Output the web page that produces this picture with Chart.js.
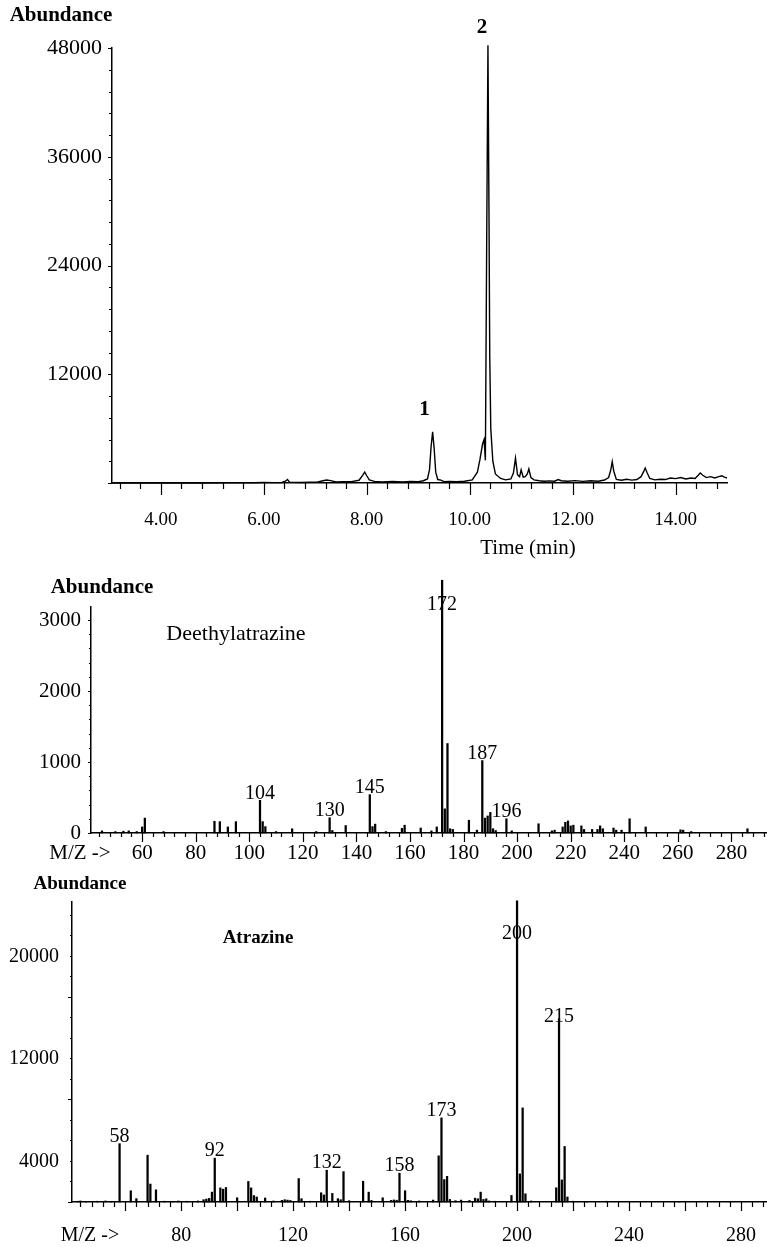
<!DOCTYPE html>
<html>
<head>
<meta charset="utf-8">
<script src="https://cdn.jsdelivr.net/npm/chart.js@4.4.0/dist/chart.umd.min.js"></script>
<style>
  html, body { margin: 0; padding: 0; background: #fff; }
  #page { position: relative; width: 767px; height: 1247px; overflow: hidden; background: #fff; }
  #page canvas { position: absolute; left: 0; display: block; }
</style>
</head>
<body>
<div id="page">
  <canvas id="chromChart" width="767" height="575" style="top:0"></canvas>
  <canvas id="deaChart" width="767" height="295" style="top:575px"></canvas>
  <canvas id="atzChart" width="767" height="377" style="top:870px"></canvas>
</div>
<script>
// ---- Chromatogramme (TIC) ----
const chromTime = [
  3.05, 3.6, 4.2, 4.8, 5.3, 5.8, 6.0, 6.2, 6.35, 6.42,
  6.46, 6.5, 6.7, 6.9, 7.05, 7.15, 7.22, 7.3, 7.4, 7.55,
  7.7, 7.85, 7.92, 7.96, 8.0, 8.05, 8.15, 8.3, 8.5, 8.7,
  8.85, 9.0, 9.1, 9.18, 9.22, 9.25, 9.28, 9.31, 9.34, 9.38,
  9.44, 9.5, 9.6, 9.75, 9.9, 10.05, 10.15, 10.2, 10.25, 10.28,
  10.305, 10.33, 10.355, 10.375, 10.39, 10.41, 10.45, 10.5, 10.6, 10.7,
  10.8, 10.85, 10.89, 10.93, 10.97, 11.0, 11.04, 11.08, 11.12, 11.15,
  11.19, 11.25, 11.35, 11.45, 11.55, 11.65, 11.72, 11.78, 11.9, 12.05,
  12.2, 12.35, 12.5, 12.62, 12.7, 12.74, 12.77, 12.8, 12.85, 12.95,
  13.05, 13.15, 13.25, 13.33, 13.38, 13.41, 13.45, 13.5, 13.6, 13.7,
  13.8, 13.9, 14.0, 14.1, 14.2, 14.3, 14.38, 14.44, 14.48, 14.53,
  14.6, 14.68, 14.76, 14.84, 14.9, 14.95, 15.0
];
const chromAbund = [
  0, 0, 0, 0, 30, 20, 60, 40, 60, 200,
  380, 100, 50, 90, 120, 250, 330, 260, 110, 130,
  150, 300, 850, 1200, 800, 350, 180, 120, 160, 120,
  170, 150, 250, 450, 1500, 4000, 5650, 3800, 1200, 380,
  320, 150, 180, 150, 200, 350, 1200, 2600, 4300, 4800,
  2500, 26000, 48300, 30000, 14000, 6000, 2400, 1000, 500, 350,
  450, 1100, 2750, 900, 700, 1450, 650, 700, 1000, 1550,
  600, 350, 250, 200, 230, 200, 380, 250, 200, 260,
  180, 250, 200, 330, 600, 1400, 2350, 1300, 400, 300,
  420, 320, 380, 700, 1250, 1650, 1100, 500, 350, 420,
  380, 550, 480, 600, 450, 550, 500, 850, 1100, 850,
  600, 700, 550, 700, 800, 650, 550
];
const chromTimeTicks = [4, 6, 8, 10, 12, 14];
const chromAbundTicks = [12000, 24000, 36000, 48000];
const chromPeakNames = ['1', '2'];
const chromPeakTimes = [9.28, 10.355];

// ---- Spectre de masse : deethylatrazine ----
const deaMz = [
  45, 50, 53, 55, 58, 60, 61, 68, 87, 89,
  92, 95, 104, 105, 106, 110, 116, 125, 130, 131,
  136, 145, 146, 147, 151, 157, 158, 164, 168, 170,
  172, 173, 174, 175, 176, 182, 185, 187, 188, 189,
  190, 191, 192, 196, 198, 208, 213, 214, 217, 218,
  219, 220, 221, 224, 225, 228, 230, 231, 232, 236,
  237, 239, 242, 248, 261, 262, 265, 286
];
const deaAbund = [
  30, 20, 25, 30, 20, 85, 210, 20, 165, 160,
  85, 160, 460, 160, 90, 20, 60, 20, 215, 35,
  105, 540, 90, 125, 20, 65, 110, 70, 30, 85,
  3560, 340, 1260, 60, 50, 180, 40, 1020, 210, 240,
  290, 60, 35, 200, 30, 130, 30, 40, 85, 150,
  170, 100, 110, 100, 50, 50, 50, 100, 60, 70,
  40, 40, 200, 85, 45, 40, 20, 60
];
const deaMzTicks = [60, 80, 100, 120, 140, 160, 180, 200, 220, 240, 260, 280];
const deaAbundTicks = [0, 1000, 2000, 3000];
const deaLabelled = [104, 130, 145, 172, 187, 196];

// ---- Spectre de masse : atrazine ----
const atzMz = [
  43, 44, 46, 50, 53, 55, 58, 62, 64, 68,
  69, 71, 74, 77, 79, 82, 86, 88, 89, 90,
  91, 92, 94, 95, 96, 100, 104, 105, 106, 107,
  110, 113, 116, 117, 118, 119, 122, 123, 126, 130,
  131, 132, 134, 136, 137, 138, 140, 145, 147, 148,
  152, 155, 156, 157, 158, 160, 161, 162, 165, 170,
  172, 173, 174, 175, 176, 178, 180, 183, 185, 186,
  187, 188, 189, 190, 192, 198, 200, 201, 202, 203,
  205, 214, 215, 216, 217, 218, 220, 225, 232, 258,
  276
];
const atzAbund = [
  60, 80, 50, 60, 80, 50, 4550, 875, 260, 3650,
  1400, 950, 60, 50, 80, 60, 80, 180, 230, 280,
  770, 3420, 1100, 1000, 1130, 330, 1600, 1100, 500, 390,
  310, 80, 130, 180, 150, 120, 1830, 260, 60, 720,
  550, 2480, 670, 260, 180, 2370, 100, 1620, 770, 120,
  330, 130, 160, 140, 2250, 880, 130, 100, 80, 150,
  3600, 6560, 1750, 2000, 200, 100, 150, 120, 300, 250,
  770, 200, 250, 80, 60, 510, 23500, 2190, 7340, 640,
  80, 1110, 14300, 1720, 4330, 390, 60, 50, 60, 40,
  40
];
const atzMzTicks = [80, 120, 160, 200, 240, 280];
const atzAbundTicks = [4000, 12000, 20000];
const atzLabelled = [58, 92, 132, 158, 173, 200, 215];

const SERIF = "'Liberation Serif', 'Times New Roman', serif";

// petits traits des axes (longs sur les graduations principales)
const axisTicks = {
    id: 'axisTicks',
    afterDraw(chart, args, o) {
        const { ctx, chartArea } = chart;
        const xs = chart.scales.x;
        const ys = chart.scales.y;
        const isMajor = (v, step) => Math.abs(v / step - Math.round(v / step)) < 1e-6;
        ctx.save();
        ctx.strokeStyle = '#000';
        ctx.lineWidth = 1.2;
        ctx.beginPath();
        for (let k = Math.ceil(xs.min / o.xMinor - 1e-9); k * o.xMinor <= xs.max + 1e-9; k++) {
            const v = k * o.xMinor;
            const px = Math.round(xs.getPixelForValue(v)) + 0.5;
            const len = isMajor(v, o.xMajor) ? o.xMajorLen : o.xMinorLen;
            ctx.moveTo(px, chartArea.bottom - o.xUp);
            ctx.lineTo(px, chartArea.bottom + len);
        }
        for (let k = Math.ceil(ys.min / o.yMinor - 1e-9); k * o.yMinor <= ys.max + 1e-9; k++) {
            const v = k * o.yMinor;
            const py = Math.round(ys.getPixelForValue(v)) + 0.5;
            const len = isMajor(v, o.yMajor) ? o.yMajorLen : o.yMinorLen;
            ctx.moveTo(chartArea.left - len, py);
            ctx.lineTo(chartArea.left, py);
        }
        ctx.stroke();
        ctx.restore();
    }
};

// textes libres (titres, noms des composés)
const panelText = {
    id: 'panelText',
    afterDraw(chart, args, o) {
        if (!o.items) return;
        const { ctx } = chart;
        ctx.save();
        ctx.fillStyle = '#000';
        ctx.textBaseline = 'middle';
        o.items.forEach(it => {
            ctx.font = it.font;
            ctx.textAlign = it.align || 'center';
            ctx.fillText(it.text, it.x, it.y);
        });
        ctx.restore();
    }
};

// étiquettes des pics, placées au sommet de chaque raie
const peakLabels = {
    id: 'peakLabels',
    afterDatasetsDraw(chart, args, o) {
        if (!o.points) return;
        const { ctx } = chart;
        const xs = chart.scales.x;
        const ys = chart.scales.y;
        ctx.save();
        ctx.fillStyle = '#000';
        ctx.font = o.font;
        ctx.textAlign = 'center';
        ctx.textBaseline = 'middle';
        o.points.forEach(p => {
            ctx.fillText(p.text, xs.getPixelForValue(p.x) + (p.dx || 0), ys.getPixelForValue(p.y) + (p.dy || 0));
        });
        ctx.restore();
    }
};

Chart.register(axisTicks, panelText, peakLabels);

function fixedTicks(values) {
    return scale => { scale.ticks = values.map(v => ({ value: v })); };
}

function baseScales(cfg) {
    return {
        x: {
            type: 'linear',
            min: cfg.xMin,
            max: cfg.xMax,
            offset: false,
            grid: { display: false, drawTicks: false },
            border: { display: true, color: '#000', width: 1.5 },
            afterBuildTicks: fixedTicks(cfg.xTicks),
            afterFit: s => {
                s.height = cfg.xHeight;
                // pas de marge auto à droite/gauche : l'axe va jusqu'au bord
                s.paddingLeft = 0;
                s.paddingRight = 0;
            },
            ticks: {
                color: '#000',
                padding: cfg.xPad,
                maxRotation: 0,
                autoSkip: false,
                font: { family: SERIF, size: cfg.xFont },
                callback: cfg.xFormat || (v => String(v))
            }
        },
        y: {
            min: 0,
            max: cfg.yMax,
            grid: { display: false, drawTicks: false },
            border: { display: true, color: '#000', width: 1.5 },
            afterBuildTicks: fixedTicks(cfg.yTicks),
            afterFit: s => { s.width = cfg.yWidth; },
            ticks: {
                color: '#000',
                padding: cfg.yPad,
                labelOffset: cfg.yLabelOffset || 0,
                autoSkip: false,
                font: { family: SERIF, size: cfg.yFont },
                callback: v => String(v)
            }
        }
    };
}

const common = {
    responsive: false,
    animation: false,
    events: [],
    plugins: { legend: { display: false }, tooltip: { enabled: false } }
};

// ---- 1. chromatogramme ----
const chromPoints = chromTime.map((t, i) => ({ x: t, y: chromAbund[i] }));
const chromPeakPoints = chromPeakNames.map((name, i) => {
    const idx = chromTime.indexOf(chromPeakTimes[i]);
    return { x: chromPeakTimes[i], y: chromAbund[idx], text: name };
});
const chromPeakShift = [{ dx: -8, dy: -22 }, { dx: -6, dy: -18 }];
chromPeakPoints.forEach((p, i) => Object.assign(p, chromPeakShift[i]));

new Chart(document.getElementById('chromChart'), {
    type: 'line',
    data: {
        datasets: [{
            data: chromPoints,
            borderColor: '#000',
            borderWidth: 1.4,
            pointRadius: 0,
            tension: 0,
            clip: false
        }]
    },
    options: {
        ...common,
        layout: { padding: { top: 48, right: 40, left: 0, bottom: 0 } },
        scales: baseScales({
            xMin: 3.05, xMax: 15.0, xTicks: chromTimeTicks, xHeight: 92, xPad: 26, xFont: 19,
            xFormat: v => v.toFixed(2),
            yMax: 48000, yTicks: chromAbundTicks, yWidth: 112, yPad: 10, yFont: 22
        }),
        plugins: {
            ...common.plugins,
            axisTicks: { xMinor: 0.4, xMajor: 2, xMinorLen: 6, xMajorLen: 12, xUp: 0,
                         yMinor: 2400, yMajor: 12000, yMinorLen: 3, yMajorLen: 4 },
            peakLabels: { font: 'bold 21px ' + SERIF, points: chromPeakPoints },
            panelText: { items: [
                { text: 'Abundance', x: 61, y: 16, font: 'bold 21px ' + SERIF },
                { text: 'Time (min)', x: 528, y: 548, font: '21px ' + SERIF }
            ] }
        }
    }
});

// ---- 2. et 3. spectres de masse ----
const labelShift = { 172: 25, 200: 33, 215: -2 };

function spectrumLabels(mzs, abund, labelled) {
    return labelled.map(m => ({
        x: m,
        y: abund[mzs.indexOf(m)],
        text: String(m),
        dy: labelShift[m] !== undefined ? labelShift[m] : -7
    }));
}

function spectrumData(mzs, abund) {
    return {
        datasets: [{
            data: mzs.map((m, i) => ({ x: m, y: abund[i] })),
            backgroundColor: '#000',
            borderWidth: 0,
            barThickness: 1.6,
            clip: false
        }]
    };
}

new Chart(document.getElementById('deaChart'), {
    type: 'bar',
    data: spectrumData(deaMz, deaAbund),
    options: {
        ...common,
        layout: { padding: { top: 32, right: 0, left: 0, bottom: 0 } },
        scales: baseScales({
            xMin: 40.9, xMax: 293.3, xTicks: deaMzTicks, xHeight: 37, xPad: 8, xFont: 21,
            yMax: 3183, yTicks: deaAbundTicks, yWidth: 91, yPad: 10, yFont: 21
        }),
        plugins: {
            ...common.plugins,
            axisTicks: { xMinor: 4, xMajor: 20, xMinorLen: 4, xMajorLen: 9, xUp: 1,
                         yMinor: 200, yMajor: 1000, yMinorLen: 2, yMajorLen: 3 },
            peakLabels: { font: '20px ' + SERIF, points: spectrumLabels(deaMz, deaAbund, deaLabelled) },
            panelText: { items: [
                { text: 'Abundance', x: 102, y: 13, font: 'bold 21px ' + SERIF },
                { text: 'Deethylatrazine', x: 236, y: 59, font: '22px ' + SERIF },
                { text: 'M/Z ->', x: 80, y: 278, font: '21px ' + SERIF }
            ] }
        }
    }
});

new Chart(document.getElementById('atzChart'), {
    type: 'bar',
    data: spectrumData(atzMz, atzAbund),
    options: {
        ...common,
        layout: { padding: { top: 32, right: 0, left: 0, bottom: 0 } },
        scales: baseScales({
            xMin: 41.0, xMax: 289.3, xTicks: atzMzTicks, xHeight: 45, xPad: 22, xFont: 20,
            yMax: 23400, yTicks: atzAbundTicks, yWidth: 72, yPad: 13, yFont: 20, yLabelOffset: 11
        }),
        plugins: {
            ...common.plugins,
            axisTicks: { xMinor: 4, xMajor: 20, xMinorLen: 5, xMajorLen: 9, xUp: 0,
                         yMinor: 1600, yMajor: 8000, yMinorLen: 2, yMajorLen: 4 },
            peakLabels: { font: '20px ' + SERIF, points: spectrumLabels(atzMz, atzAbund, atzLabelled) },
            panelText: { items: [
                { text: 'Abundance', x: 80, y: 14, font: 'bold 19px ' + SERIF },
                { text: 'Atrazine', x: 258, y: 68, font: 'bold 19px ' + SERIF },
                { text: 'M/Z ->', x: 90, y: 366, font: '20px ' + SERIF }
            ] }
        }
    }
});
</script>
</body>
</html>
